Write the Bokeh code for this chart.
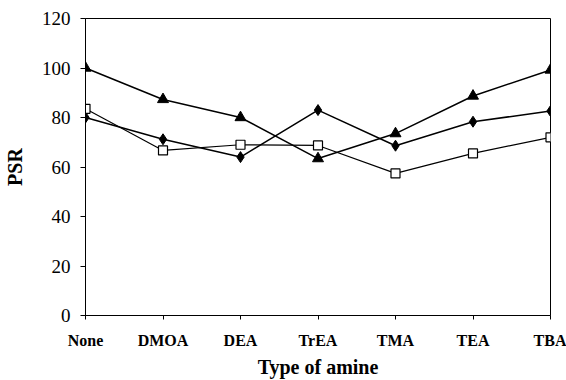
from bokeh.plotting import figure
from bokeh.models import FixedTicker, Range1d
from bokeh.embed import file_html
from bokeh.resources import INLINE

categories = ["None", "DMOA", "DEA", "TrEA", "TMA", "TEA", "TBA"]
triangle_vals = [100, 87.3, 80, 63.4, 73.5, 88.7, 99.2]
diamond_vals = [80, 71.2, 64, 83, 68.6, 78.3, 82.6]
square_vals = [83.5, 66.7, 69, 68.7, 57.4, 65.5, 72]
y_ticks = [0, 20, 40, 60, 80, 100, 120]

xs = list(range(len(categories)))

p = figure(width=566, height=380, output_backend="svg", toolbar_location=None,
           x_range=Range1d(0, len(categories) - 1), y_range=Range1d(0, 120),
           min_border_left=82, min_border_right=16, min_border_top=18, min_border_bottom=63)
p.xgrid.visible = False
p.ygrid.visible = False
p.outline_line_color = "black"
p.outline_line_width = 1
p.background_fill_color = "white"
p.border_fill_color = "white"

p.line(xs, triangle_vals, line_color="black", line_width=1.5)
p.scatter(xs, triangle_vals, marker="triangle", size=11, fill_color="black", line_color="black")
p.line(xs, diamond_vals, line_color="black", line_width=1.5)
p.scatter(xs, diamond_vals, marker="diamond", size=11, fill_color="black", line_color="black")
p.line(xs, square_vals, line_color="black", line_width=1.2)
p.scatter(xs, square_vals, marker="square", size=9, fill_color="white", line_color="black", line_width=1.2)

font = "Liberation Serif"
p.xaxis.ticker = FixedTicker(ticks=xs)
p.xaxis.major_label_overrides = {i: c for i, c in enumerate(categories)}
p.xaxis.minor_tick_line_color = None
p.xaxis.major_tick_in = 0
p.xaxis.major_tick_out = 4
p.xaxis.major_label_text_font = font
p.xaxis.major_label_text_font_style = "bold"
p.xaxis.major_label_text_font_size = "16px"
p.xaxis.major_label_standoff = 12
p.xaxis.axis_label = "Type of amine"
p.xaxis.axis_label_text_font = font
p.xaxis.axis_label_text_font_style = "bold"
p.xaxis.axis_label_text_font_size = "20px"
p.xaxis.axis_label_standoff = 4

p.yaxis.ticker = FixedTicker(ticks=y_ticks)
p.yaxis.minor_tick_line_color = None
p.yaxis.major_tick_in = 0
p.yaxis.major_tick_out = 5
p.yaxis.major_label_text_font = font
p.yaxis.major_label_text_font_size = "19px"
p.yaxis.major_label_standoff = 10
p.yaxis.axis_label = "PSR"
p.yaxis.axis_label_text_font = font
p.yaxis.axis_label_text_font_style = "bold"
p.yaxis.axis_label_text_font_size = "20px"
p.yaxis.axis_label_standoff = 13

for ax in (p.xaxis, p.yaxis):
    ax.axis_line_color = "black"
    ax.major_tick_line_color = "black"
    ax.major_label_text_color = "black"
    ax.axis_label_text_color = "black"

open("out.html", "w").write(file_html(p, INLINE))
